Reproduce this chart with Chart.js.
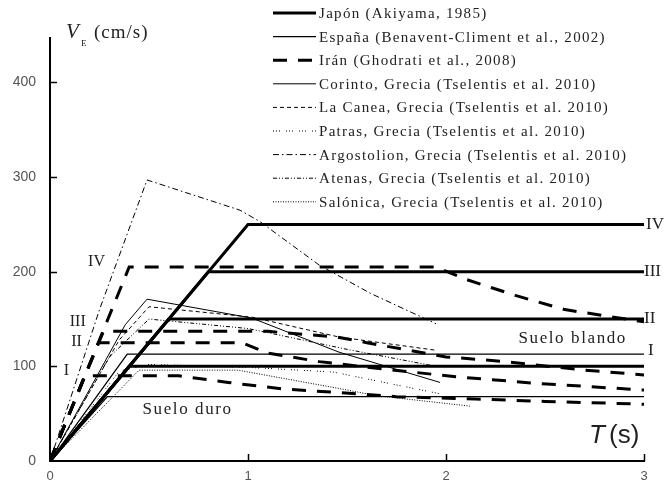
<!DOCTYPE html>
<html>
<head>
<meta charset="utf-8">
<script src="https://cdn.jsdelivr.net/npm/chart.js@4/dist/chart.umd.min.js"></script>
<style>
  html, body { margin: 0; padding: 0; background: #fff; }
  canvas { display: block; }
</style>
</head>
<body>
<canvas id="c" width="665" height="483"></canvas>
<script>
// Design velocity spectra V_E(T): breakpoints as [period T (s), V_E (cm/s)]

// Japón (Akiyama, 1985) – soil types I..IV
const japonI   = [[0, 0], [0.4, 100], [3, 100]];
const japonII  = [[0, 0], [0.6, 150], [3, 150]];
const japonIII = [[0, 0], [0.8, 200], [3, 200]];
const japonIV  = [[0, 0], [1.0, 250], [3, 250]];

// España (Benavent-Climent et al., 2002) – hard / soft soil
const espanaDuro   = [[0, 0], [0.29, 68], [3, 68]];
const espanaBlando = [[0, 0], [0.39, 113], [3, 113]];

// Irán (Ghodrati et al., 2008) – soil types I..IV
const iranI   = [[0, 0], [0.176, 90], [0.65, 90], [0.9, 83], [1.18, 76], [1.45, 72.5], [1.75, 68], [2.15, 65.5], [2.5, 63], [3, 60]];
const iranII  = [[0, 0], [0.245, 125], [0.97, 125], [1.1, 114], [1.36, 105], [1.65, 98], [2.05, 89], [2.46, 82], [3, 75]];
const iranIII = [[0, 0], [0.27, 137], [1.1, 137], [1.45, 131], [1.6, 125], [2.0, 110], [2.3, 105], [2.7, 96], [3, 91]];
const iranIV  = [[0, 0], [0.4, 205], [1.95, 205], [2.1, 192], [2.35, 175], [2.6, 160], [3, 147]];

// Grecia (Tselentis et al., 2010)
const corinto     = [[0, 0], [0.38, 144], [0.49, 171], [1.02, 151], [1.46, 115], [1.97, 83]];
const laCanea     = [[0, 0], [0.35, 128], [0.5, 163], [1.02, 152], [1.46, 131], [1.95, 117]];
const patras      = [[0, 0], [0.35, 95], [0.5, 102], [1.0, 99], [1.43, 94], [1.97, 71]];
const argostolion = [[0, 0], [0.25, 160], [0.49, 297], [0.96, 265], [1.06, 253], [1.36, 207], [1.62, 177], [1.95, 145]];
const atenas      = [[0, 0], [0.3, 110], [0.5, 150], [1.0, 140], [1.5, 118], [1.95, 100]];
const salonica    = [[0, 0], [0.45, 96], [0.95, 96], [1.45, 77], [1.65, 69], [2.12, 58]];

// Axis ticks
const xTicks = [0, 1, 2, 3];
const yTicks = [0, 100, 200, 300, 400];

// Legend entries and line styles
const series = [
  { name: 'Japón (Akiyama, 1985)',                      lines: [japonI, japonII, japonIII, japonIV], width: 3,   dash: [] },
  { name: 'España (Benavent-Climent et al., 2002)',     lines: [espanaDuro, espanaBlando],           width: 1.3, dash: [] },
  { name: 'Irán (Ghodrati et al., 2008)',               lines: [iranI, iranII, iranIII, iranIV],     width: 3,   dash: [14, 11] },
  { name: 'Corinto, Grecia (Tselentis et al. 2010)',    lines: [corinto],     width: 1, dash: [] },
  { name: 'La Canea, Grecia (Tselentis et al. 2010)',   lines: [laCanea],     width: 1, dash: [4, 3] },
  { name: 'Patras, Grecia (Tselentis et al. 2010)',     lines: [patras],      width: 1, dash: [1, 2, 1, 2, 1, 6] },
  { name: 'Argostolion, Grecia (Tselentis et al. 2010)',lines: [argostolion], width: 1, dash: [6, 3, 1.5, 3] },
  { name: 'Atenas, Grecia (Tselentis et al. 2010)',     lines: [atenas],      width: 1, dash: [4, 2, 1, 2, 1, 2] },
  { name: 'Salónica, Grecia (Tselentis et al. 2010)',   lines: [salonica],    width: 1, dash: [1, 1.5] }
];

const datasets = [];
series.forEach(s => {
  s.lines.forEach(pts => {
    datasets.push({
      label: s.name,
      data: pts.map(p => ({ x: p[0], y: p[1] })),
      borderColor: '#000',
      borderWidth: s.width,
      borderDash: s.dash,
      borderCapStyle: 'butt',
      pointRadius: 0,
      tension: 0,
      fill: false
    });
  });
});

const serif = '"Liberation Serif", "DejaVu Serif", serif';
const sans = '"Liberation Sans", Arial, sans-serif';

// Short tick marks pointing into the plot area
const innerTicks = {
  id: 'innerTicks',
  afterDraw(chart) {
    const { ctx, scales: { x, y } } = chart;
    ctx.save();
    ctx.strokeStyle = '#000';
    ctx.lineWidth = 1.5;
    yTicks.slice(1).forEach(v => {
      const py = Math.round(y.getPixelForValue(v)) + 0.5;
      ctx.beginPath(); ctx.moveTo(x.left, py); ctx.lineTo(x.left + 7, py); ctx.stroke();
    });
    xTicks.slice(1).forEach(v => {
      const px = Math.round(x.getPixelForValue(v)) + 0.5;
      ctx.beginPath(); ctx.moveTo(px, y.bottom); ctx.lineTo(px, y.bottom - 7); ctx.stroke();
    });
    ctx.restore();
  }
};

// Legend block in the upper right corner
const legendBlock = {
  id: 'legendBlock',
  afterDraw(chart) {
    const ctx = chart.ctx;
    const x0 = 273, x1 = 316, tx = 319, top = 13, step = 23.6;
    ctx.save();
    series.forEach((s, i) => {
      const yy = top + i * step;
      ctx.beginPath();
      ctx.setLineDash(s.dash);
      ctx.lineWidth = s.width;
      ctx.strokeStyle = '#000';
      ctx.moveTo(x0, yy); ctx.lineTo(x1, yy); ctx.stroke();
      ctx.setLineDash([]);
      ctx.fillStyle = '#222';
      ctx.font = '15px ' + serif;
      ctx.letterSpacing = '1.3px';
      ctx.textBaseline = 'middle';
      ctx.textAlign = 'left';
      ctx.fillText(s.name, tx, yy + 1);
    });
    ctx.restore();
  }
};

// Axis titles and curve annotations
const annotations = {
  id: 'annotations',
  afterDraw(chart) {
    const { ctx, scales: { x, y } } = chart;
    ctx.save();
    ctx.fillStyle = '#222';
    ctx.textBaseline = 'alphabetic';
    ctx.letterSpacing = '0px';

    // y-axis title: V_E (cm/s)
    ctx.font = 'italic 21px ' + serif;
    ctx.textAlign = 'left';
    ctx.fillText('V', x.left + 16, y.top);
    ctx.font = '9px ' + serif;
    ctx.fillText('E', x.left + 31, y.top + 8);
    ctx.font = '19px ' + serif;
    ctx.letterSpacing = '1px';
    ctx.fillText('(cm/s)', x.left + 44, y.top);
    ctx.letterSpacing = '0px';

    // x-axis title: T (s)
    ctx.font = 'italic 26px ' + sans;
    ctx.textAlign = 'left';
    ctx.fillText('T', x.right - 55, y.bottom - 18);
    ctx.font = '26px ' + sans;
    ctx.fillText('(s)', x.right - 35, y.bottom - 18);

    // soil type labels
    ctx.font = '16px ' + serif;
    ctx.textBaseline = 'middle';
    const txt = (s, t, v, align) => {
      ctx.textAlign = align;
      ctx.fillText(s, x.getPixelForValue(t), y.getPixelForValue(v));
    };
    txt('IV', 0.235, 210, 'center');
    txt('III', 0.14, 147, 'center');
    txt('II', 0.134, 126, 'center');
    txt('I', 0.083, 95, 'center');
    ctx.font = '17px ' + serif;
    txt('IV', 3.01, 250, 'left');
    txt('III', 3.0, 200, 'left');
    txt('II', 3.0, 151, 'left');
    txt('I', 3.02, 117, 'left');

    ctx.font = '17px ' + serif;
    ctx.letterSpacing = '1.6px';
    txt('Suelo blando', 2.64, 129, 'center');
    txt('Suelo duro', 0.695, 54, 'center');
    ctx.restore();
  }
};

new Chart(document.getElementById('c'), {
  type: 'line',
  data: { datasets },
  options: {
    responsive: false,
    animation: false,
    devicePixelRatio: 1,
    layout: { padding: { top: 38, right: 21, left: 0, bottom: 0 } },
    plugins: { legend: { display: false }, tooltip: { enabled: false } },
    scales: {
      x: {
        type: 'linear',
        min: 0, max: 3,
        afterFit: s => { s.height = 22; },
        afterBuildTicks: s => { s.ticks = xTicks.map(v => ({ value: v })); },
        grid: { display: false },
        border: { display: true, color: '#000', width: 2 },
        ticks: { color: '#555', font: { family: sans, size: 13 }, padding: 0, maxRotation: 0 }
      },
      y: {
        type: 'linear',
        min: 0, max: 447,
        afterFit: s => { s.width = 50; },
        afterBuildTicks: s => { s.ticks = yTicks.map(v => ({ value: v })); },
        grid: { display: false },
        border: { display: true, color: '#000', width: 2 },
        ticks: { color: '#555', font: { family: sans, size: 14 }, padding: 6 }
      }
    }
  },
  plugins: [innerTicks, legendBlock, annotations]
});
</script>
</body>
</html>
